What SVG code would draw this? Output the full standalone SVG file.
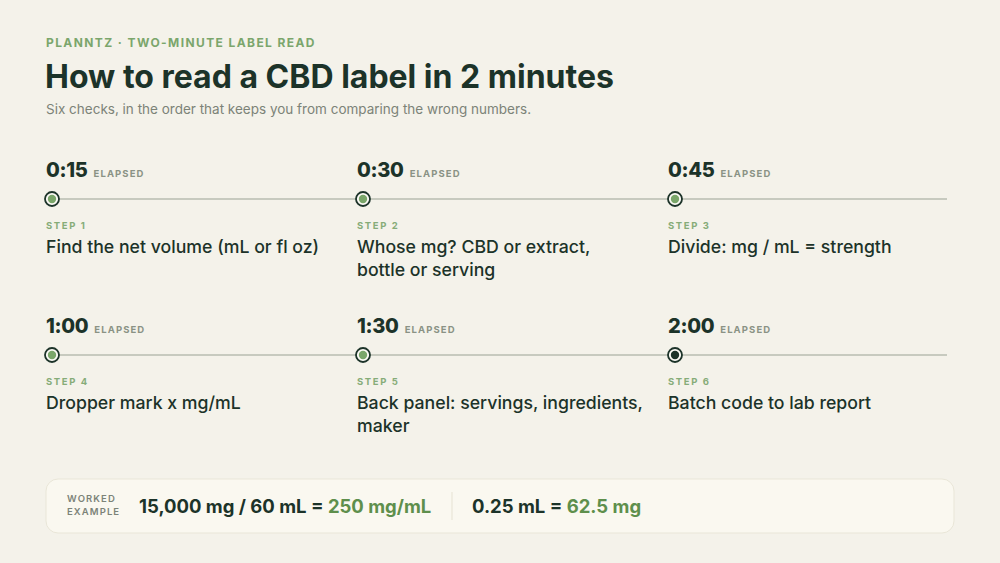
<svg xmlns="http://www.w3.org/2000/svg" width="1000" height="563" viewBox="0 0 1000 563">
<style>
.bg{fill:#f4f2ea}
.eyebrow{font-family:Inter,"Liberation Sans",sans-serif;font-size:12px;font-weight:700;letter-spacing:1.4px;fill:#7ba66c}
.title{font-family:Inter,"Liberation Sans",sans-serif;font-size:32px;font-weight:700;fill:#1c3329}
.sub{font-family:Inter,"Liberation Sans",sans-serif;font-size:13.5px;fill:#7c8378}
.time{font-family:Inter,"Liberation Sans",sans-serif;font-size:20px;font-weight:800;fill:#1c3329;letter-spacing:-0.3px}
.elapsed{font-family:Inter,"Liberation Sans",sans-serif;font-size:9.5px;font-weight:700;letter-spacing:1.1px;fill:#8a9285}
.step{font-family:Inter,"Liberation Sans",sans-serif;font-size:9.5px;font-weight:700;letter-spacing:1.6px;fill:#86ac78}
.desc{font-family:Inter,"Liberation Sans",sans-serif;font-size:17.7px;font-weight:500;fill:#1c3329}
.track{stroke:#b9bdb0;stroke-width:1.5}
.ring{fill:#fbfaf5;stroke:#1c3329;stroke-width:1.8}
.dotg{fill:#7aa66a}
.dotd{fill:#1c3329}
.wk{font-family:Inter,"Liberation Sans",sans-serif;font-size:9.5px;font-weight:600;letter-spacing:1.1px;fill:#7c8378}
.calc{font-family:Inter,"Liberation Sans",sans-serif;font-size:18.5px;font-weight:700;fill:#1c3329}
.res{fill:#5e8f4c}
</style>
<rect class="bg" x="0" y="0" width="1000" height="563"/>
<g id="header">
<text class="eyebrow" x="46" y="47">PLANNTZ · TWO-MINUTE LABEL READ</text>
<text class="title" x="45" y="88">How to read a CBD label in 2 minutes</text>
<text class="sub" x="46" y="114">Six checks, in the order that keeps you from comparing the wrong numbers.</text>
</g>
<g id="connectors">
<line class="track" x1="52" y1="199" x2="947" y2="199"/>
<line class="track" x1="52" y1="355" x2="947" y2="355"/>
</g>
<g id="step1">
<text x="46" y="177"><tspan class="time">0:15</tspan><tspan class="elapsed" dx="6">ELAPSED</tspan></text>
<circle class="ring" cx="52" cy="199" r="7"/><circle class="dotg" cx="52" cy="199" r="4.2"/>
<text class="step" x="46" y="229">STEP 1</text>
<text class="desc" x="46" y="253">Find the net volume (mL or fl oz)</text>
</g>
<g id="step2">
<text x="357" y="177"><tspan class="time">0:30</tspan><tspan class="elapsed" dx="6">ELAPSED</tspan></text>
<circle class="ring" cx="363" cy="199" r="7"/><circle class="dotg" cx="363" cy="199" r="4.2"/>
<text class="step" x="357" y="229">STEP 2</text>
<text class="desc" x="357" y="253">Whose mg? CBD or extract,</text>
<text class="desc" x="357" y="276">bottle or serving</text>
</g>
<g id="step3">
<text x="668" y="177"><tspan class="time">0:45</tspan><tspan class="elapsed" dx="6">ELAPSED</tspan></text>
<circle class="ring" cx="675" cy="199" r="7"/><circle class="dotg" cx="675" cy="199" r="4.2"/>
<text class="step" x="668" y="229">STEP 3</text>
<text class="desc" x="668" y="253">Divide: mg / mL = strength</text>
</g>
<g id="step4">
<text x="46" y="333"><tspan class="time">1:00</tspan><tspan class="elapsed" dx="6">ELAPSED</tspan></text>
<circle class="ring" cx="52" cy="355" r="7"/><circle class="dotg" cx="52" cy="355" r="4.2"/>
<text class="step" x="46" y="385">STEP 4</text>
<text class="desc" x="46" y="409">Dropper mark x mg/mL</text>
</g>
<g id="step5">
<text x="357" y="333"><tspan class="time">1:30</tspan><tspan class="elapsed" dx="6">ELAPSED</tspan></text>
<circle class="ring" cx="363" cy="355" r="7"/><circle class="dotg" cx="363" cy="355" r="4.2"/>
<text class="step" x="357" y="385">STEP 5</text>
<text class="desc" x="357" y="409">Back panel: servings, ingredients,</text>
<text class="desc" x="357" y="432">maker</text>
</g>
<g id="step6">
<text x="668" y="333"><tspan class="time">2:00</tspan><tspan class="elapsed" dx="6">ELAPSED</tspan></text>
<circle class="ring" cx="675" cy="355" r="7"/><circle class="dotd" cx="675" cy="355" r="4.2"/>
<text class="step" x="668" y="385">STEP 6</text>
<text class="desc" x="668" y="409">Batch code to lab report</text>
</g>
<g id="worked-example">
<rect x="46" y="479" width="908" height="54" rx="12" fill="#faf8f0" stroke="#e9e6d8" stroke-width="1"/>
<text class="wk" x="67" y="502">WORKED</text>
<text class="wk" x="67" y="515">EXAMPLE</text>
<text class="calc" x="139" y="513">15,000 mg / 60 mL = <tspan class="res">250 mg/mL</tspan></text>
<line x1="452" y1="492" x2="452" y2="520" stroke="#e6e2d3" stroke-width="1"/>
<text class="calc" x="472" y="513">0.25 mL = <tspan class="res">62.5 mg</tspan></text>
</g>
</svg>
